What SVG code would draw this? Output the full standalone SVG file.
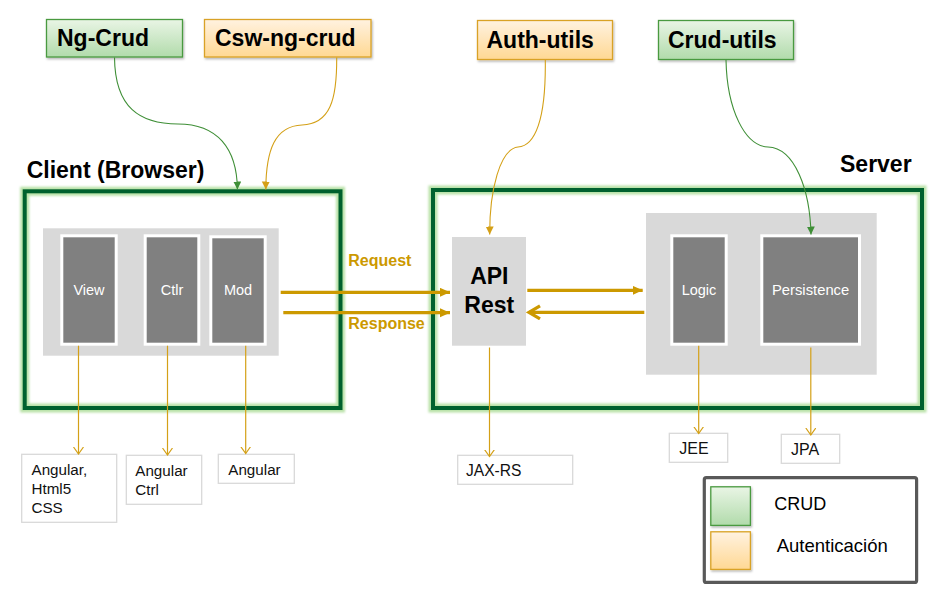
<svg xmlns="http://www.w3.org/2000/svg" width="933" height="591" viewBox="0 0 933 591">
<style>
text{font-family:"Liberation Sans",Arial,sans-serif}
.lib{font-weight:bold;font-size:23px;fill:#000}
.grn{stroke:#4a9a3f;stroke-width:1.3}
.org{stroke:#d9a225;stroke-width:1.3}
.glow{fill:none;stroke:#b9e2a8;stroke-width:9;filter:url(#bl)}
.frame{fill:none;stroke:#00612e;stroke-width:4}
.gray{fill:#d9d9d9}
.comp{fill:#808080;stroke:#fff;stroke-width:3}
.ctext{fill:#fff;font-size:14.5px;text-anchor:middle}
.tech{fill:#fff;stroke:#d9d9d9;stroke-width:1.3}
.ttext{fill:#111;font-size:15.2px}
.thin{fill:none;stroke:#d4a017;stroke-width:1.2}
.thick{fill:none;stroke:#cc9900;stroke-width:3.3}
.rr{fill:#cc9900;font-weight:bold;font-size:16px}
</style>
<defs>
<linearGradient id="gG" x1="0" y1="0" x2="0" y2="1"><stop offset="0" stop-color="#e9f5e5"/><stop offset="1" stop-color="#b1dbab"/></linearGradient>
<linearGradient id="gO" x1="0" y1="0" x2="0" y2="1"><stop offset="0" stop-color="#fff2e0"/><stop offset="1" stop-color="#ffd893"/></linearGradient>
<filter id="sh" x="-10%" y="-10%" width="130%" height="140%"><feDropShadow dx="1" dy="1.5" stdDeviation="1" flood-color="#000" flood-opacity="0.3"/></filter>
<filter id="bl" x="-5%" y="-5%" width="110%" height="110%"><feGaussianBlur stdDeviation="1.2"/></filter>
<marker id="aG" markerUnits="userSpaceOnUse" markerWidth="9" markerHeight="9" refX="8" refY="4" orient="auto"><path d="M0,0 L8,4 L0,8 z" fill="#3f8f37"/></marker>
<marker id="aO" markerUnits="userSpaceOnUse" markerWidth="9" markerHeight="9" refX="8" refY="4" orient="auto"><path d="M0,0 L8,4 L0,8 z" fill="#d4a017"/></marker>
<marker id="aT" markerUnits="userSpaceOnUse" markerWidth="12" markerHeight="12" refX="10" refY="4.5" orient="auto"><path d="M0,0 L10,4.5 L0,9 z" fill="#cc9900"/></marker>
<marker id="aC" markerUnits="userSpaceOnUse" markerWidth="16" markerHeight="18" refX="13" refY="8" orient="auto"><path d="M2,1.5 L13,8 L2,14.5" fill="none" stroke="#cc9900" stroke-width="3.3"/></marker>
<marker id="aV" markerUnits="userSpaceOnUse" markerWidth="12" markerHeight="12" refX="7" refY="5" orient="auto"><path d="M0,0 L7,5 L0,10" fill="none" stroke="#d4a017" stroke-width="1.2"/></marker>
</defs>
<rect width="933" height="591" fill="#fff"/>

<g id="ng-crud"><rect x="46.5" y="19.5" width="136" height="37.5" fill="url(#gG)" class="grn" filter="url(#sh)"/><text x="57" y="46" class="lib">Ng-Crud</text></g>
<g id="csw-ng-crud"><rect x="204.5" y="19.5" width="166.5" height="37.5" fill="url(#gO)" class="org" filter="url(#sh)"/><text x="215" y="46" class="lib">Csw-ng-crud</text></g>
<g id="auth-utils"><rect x="477.5" y="20.5" width="135" height="39" fill="url(#gO)" class="org" filter="url(#sh)"/><text x="486.5" y="47.7" class="lib">Auth-utils</text></g>
<g id="crud-utils"><rect x="658.5" y="20.5" width="135" height="39" fill="url(#gG)" class="grn" filter="url(#sh)"/><text x="668" y="47.7" class="lib">Crud-utils</text></g>

<g id="client">
<text x="26.7" y="178.3" class="lib">Client (Browser)</text>
<rect x="24.7" y="191.3" width="315.8" height="216.7" class="glow"/>
<rect x="24.7" y="191.3" width="315.8" height="216.7" class="frame"/>
<rect x="43" y="228.3" width="235.7" height="127.4" class="gray"/>
</g>
<g id="view"><rect x="61.8" y="235.8" width="54.4" height="108.4" class="comp"/><text x="89" y="295" class="ctext">View</text></g>
<g id="ctlr"><rect x="145.2" y="235.8" width="53.6" height="108.4" class="comp"/><text x="172" y="295" class="ctext">Ctlr</text></g>
<g id="mod"><rect x="210.8" y="236.8" width="54.4" height="107.4" class="comp"/><text x="238" y="295" class="ctext">Mod</text></g>

<g id="server">
<text x="840" y="171.7" class="lib">Server</text>
<rect x="433" y="190" width="489" height="218" class="glow"/>
<rect x="433" y="190" width="489" height="218" class="frame"/>
<rect x="646" y="213" width="230.7" height="161.7" class="gray"/>
</g>
<g id="api-rest"><rect x="452" y="237" width="74" height="108.7" class="gray"/><text x="489.3" y="284.3" class="lib" text-anchor="middle">API</text><text x="489.3" y="313.3" class="lib" text-anchor="middle">Rest</text></g>
<g id="logic"><rect x="671.8" y="235.8" width="54.4" height="108.4" class="comp"/><text x="699" y="295" class="ctext">Logic</text></g>
<g id="persistence"><rect x="761.8" y="235.8" width="97.7" height="108.4" class="comp"/><text x="810.6" y="295" class="ctext" style="font-size:14.8px">Persistence</text></g>

<g id="t-angular-html"><rect x="21.7" y="454.3" width="95" height="68" class="tech"/><text class="ttext"><tspan x="31.5" y="475">Angular,</tspan><tspan x="31.5" y="494">Html5</tspan><tspan x="31.5" y="512.5">CSS</tspan></text></g>
<g id="t-angular-ctrl"><rect x="126.3" y="455.3" width="75.4" height="49" class="tech"/><text class="ttext"><tspan x="135.3" y="476">Angular</tspan><tspan x="135.3" y="494.5">Ctrl</tspan></text></g>
<g id="t-angular"><rect x="218.3" y="454.3" width="76" height="29" class="tech"/><text x="228.3" y="475" class="ttext">Angular</text></g>
<g id="t-jaxrs"><rect x="457.7" y="455.3" width="115" height="29" class="tech"/><text x="466" y="475.7" class="ttext" style="font-size:15.6px">JAX-RS</text></g>
<g id="t-jee"><rect x="669.3" y="433.3" width="58.4" height="29" class="tech"/><text x="679.3" y="454" class="ttext" style="font-size:16px">JEE</text></g>
<g id="t-jpa"><rect x="781.3" y="434.3" width="58.4" height="29" class="tech"/><text x="791" y="454.5" class="ttext" style="font-size:16px">JPA</text></g>

<g id="legend">
<rect x="704.3" y="477.7" width="212.3" height="104.7" rx="2" fill="#fff" stroke="#595959" stroke-width="3.2"/>
<rect x="710.8" y="486.8" width="39.6" height="38.6" fill="url(#gG)" class="grn" filter="url(#sh)"/>
<rect x="710.8" y="531.8" width="39.6" height="37.6" fill="url(#gO)" class="org" filter="url(#sh)"/>
<text x="774.3" y="510.3" style="font-size:18px" fill="#000">CRUD</text>
<text x="776.7" y="551.7" style="font-size:18.5px" fill="#000">Autenticación</text>
</g>

<g id="connectors">
<path d="M114.5,57.5 C115,108 140,124 178,124 C217,124 237,148 237.4,189.5" fill="none" stroke="#3f8f37" stroke-width="1.1" marker-end="url(#aG)"/>
<path d="M336.7,57.5 C337,100 330,124 302,125 C275,126 266,150 265.8,189.5" fill="none" stroke="#d4a017" stroke-width="1.1" marker-end="url(#aO)"/>
<path d="M545.3,60 C546,120 535,146 518,147 C500,149 489.5,190 489.7,234.5" fill="none" stroke="#d4a017" stroke-width="1.1" marker-end="url(#aO)"/>
<path d="M726,60 C727,110 745,146 768,147 C795,148 810,190 811,234.5" fill="none" stroke="#3f8f37" stroke-width="1.1" marker-end="url(#aG)"/>

<path d="M280.7,292.3 L450,292.3" class="thick" marker-end="url(#aT)"/>
<path d="M283.3,312.7 L450,312.7" class="thick" marker-end="url(#aT)"/>
<path d="M527.3,290.3 L642.7,290.3" class="thick" marker-end="url(#aT)"/>
<path d="M644.3,312.3 L529,312.3" class="thick" marker-end="url(#aC)"/>
<text x="348.3" y="266" class="rr">Request</text>
<text x="348.3" y="328.7" class="rr">Response</text>

<path d="M78.5,345.7 L78.5,454" class="thin" marker-end="url(#aV)"/>
<path d="M167.5,345.7 L167.5,455" class="thin" marker-end="url(#aV)"/>
<path d="M245.7,345.7 L245.7,453.5" class="thin" marker-end="url(#aV)"/>
<path d="M489.5,347.5 L489.5,456.5" class="thin" marker-end="url(#aV)"/>
<path d="M698.7,345.7 L698.7,433.5" class="thin" marker-end="url(#aV)"/>
<path d="M810.8,347.5 L810.8,435" class="thin" marker-end="url(#aV)"/>
</g>
</svg>
